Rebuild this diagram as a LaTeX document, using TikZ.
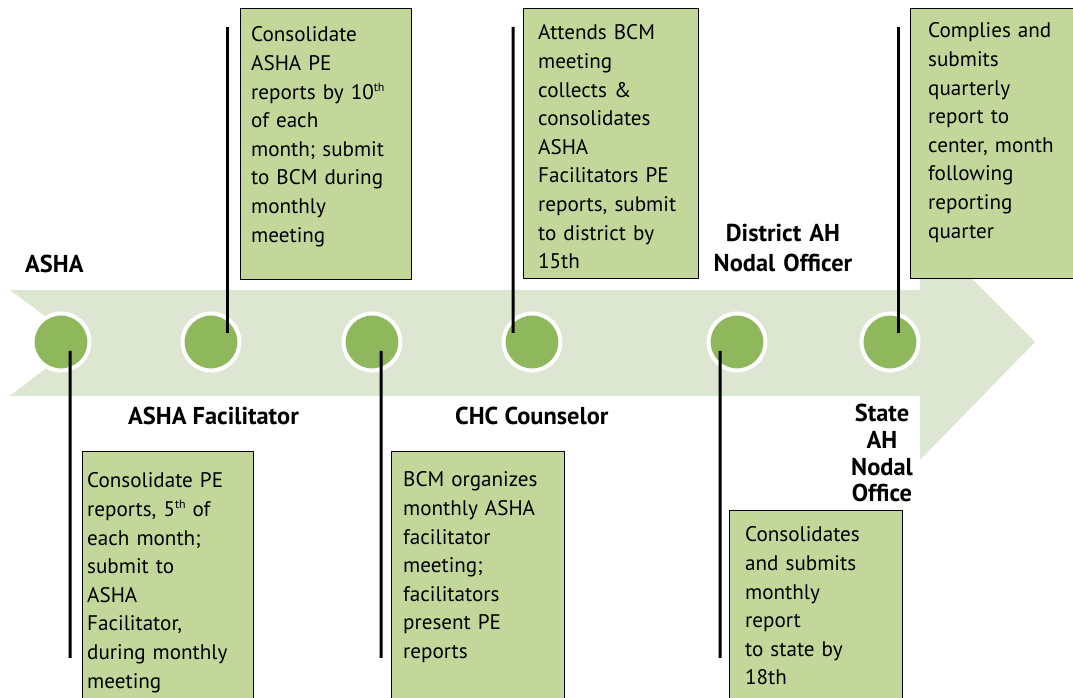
\documentclass[tikz,border=0pt]{standalone}
\usepackage{fontspec}
\setmainfont{PT Sans}
\definecolor{bandgreen}{HTML}{DDE6D1}
\definecolor{dotgreen}{HTML}{8FB85C}
\definecolor{cardgreen}{HTML}{C4D79B}
\newcommand{\cardfont}{\fontsize{21.2}{28.7}\selectfont}
\newcommand{\rolefont}{\fontsize{24.5}{26.7}\selectfont\bfseries}
\newcommand{\ordsup}[1]{\raisebox{0.75ex}{\fontsize{12}{12}\selectfont #1}}
\begin{document}
\begin{tikzpicture}[line join=bevel,
  dot/.style={circle,fill=dotgreen,draw=white,line width=4bp,minimum size=57bp,inner sep=0pt},
  stem/.style={black,line width=3bp},
  card/.style={draw=black,line width=1bp,fill=cardgreen,inner sep=0pt,anchor=north west},
  cardtext/.style={anchor=base west,align=left,text width=168bp,inner sep=0pt,font=\cardfont},
  role/.style={inner sep=0pt,font=\rolefont},
]
%%
\useasboundingbox (0bp,0bp) rectangle (1073bp,698bp);
\clip (0bp,0bp) rectangle (1073bp,698bp);
\fill [bandgreen] (10bp,408bp) -- (920bp,408bp) -- (920bp,471bp) -- (1035bp,356bp) -- (920bp,238bp) -- (920bp,302bp) -- (10bp,302bp) -- (80bp,356bp) -- cycle;
%
\node (node_0) at (61bp,356bp) [dot] {};
  \node (node_1) at (211bp,356bp) [dot] {};
  \node (node_2) at (372bp,356bp) [dot] {};
  \node (node_3) at (532bp,356bp) [dot] {};
  \node (node_4) at (737bp,356bp) [dot] {};
  \node (node_5) at (890bp,356bp) [dot] {};
%
\coordinate (end_0) at (70bp,40bp);
  \coordinate (end_1) at (227bp,671bp);
  \coordinate (end_2) at (381bp,40bp);
  \coordinate (end_3) at (513bp,671bp);
  \coordinate (end_4) at (720bp,40bp);
  \coordinate (end_5) at (898bp,671bp);
  \draw [stem] ([xshift=9bp,yshift=-9bp]node_0.center) -- (end_0);
  \draw [stem] ([xshift=16bp,yshift=9bp]node_1.center) -- (end_1);
  \draw [stem] ([xshift=9bp,yshift=-9bp]node_2.center) -- (end_2);
  \draw [stem] ([xshift=-19bp,yshift=9bp]node_3.center) -- (end_3);
  \draw [stem] ([xshift=-17bp,yshift=-9bp]node_4.center) -- (end_4);
  \draw [stem] ([xshift=8bp,yshift=9bp]node_5.center) -- (end_5);
%
\node (card_0) at (82bp,247bp) [card,minimum width=171bp,minimum height=260bp] {};
  \node (card_1) at (240bp,690bp) [card,minimum width=171bp,minimum height=271bp] {};
  \node (card_2) at (391bp,247bp) [card,minimum width=173bp,minimum height=260bp] {};
  \node (card_3) at (523bp,690bp) [card,minimum width=175bp,minimum height=270bp] {};
  \node (card_4) at (729bp,188bp) [card,minimum width=173bp,minimum height=200bp] {};
  \node (card_5) at (910bp,690bp) [card,minimum width=175bp,minimum height=270bp] {};
%
\node (text_0) at (87bp,210bp) [cardtext] {Consolidate PE\\reports, 5\ordsup{th} of\\each month;\\submit to\\ASHA\\Facilitator,\\during monthly\\meeting};
  \node (text_1) at (251bp,656bp) [cardtext] {Consolidate\\ASHA PE\\reports by 10\ordsup{th}\\of each\\month; submit\\to BCM during\\monthly\\meeting};
  \node (text_2) at (403bp,211bp) [cardtext] {BCM organizes\\monthly ASHA\\facilitator\\meeting;\\facilitators\\present PE\\reports};
  \node (text_3) at (538bp,658bp) [cardtext] {Attends BCM\\meeting\\collects \&\\consolidates\\ASHA\\Facilitators PE\\reports, submit\\to district by\\15th};
  \node (text_4) at (745bp,156bp) [cardtext] {Consolidates\\and submits\\monthly\\report\\to state by\\18th};
  \node (text_5) at (928bp,660bp) [cardtext] {Complies and\\submits\\quarterly\\report to\\center, month\\following\\reporting\\quarter};
%
\node (role_0) at (25bp,425bp) [role,anchor=base west] {ASHA};
  \node (role_1) at (128bp,273bp) [role,anchor=base west] {ASHA Facilitator};
  \node (role_2) at (455bp,273bp) [role,anchor=base west] {CHC Counselor};
  \node (role_3) at (783bp,456bp) [role,anchor=base,align=center,text width=180bp] {District AH\\[3bp]Nodal Officer};
  \node (role_4) at (882bp,276bp) [role,anchor=base,align=center,text width=80bp] {State\\AH\\Nodal\\Office};
%
\end{tikzpicture}
\end{document}
